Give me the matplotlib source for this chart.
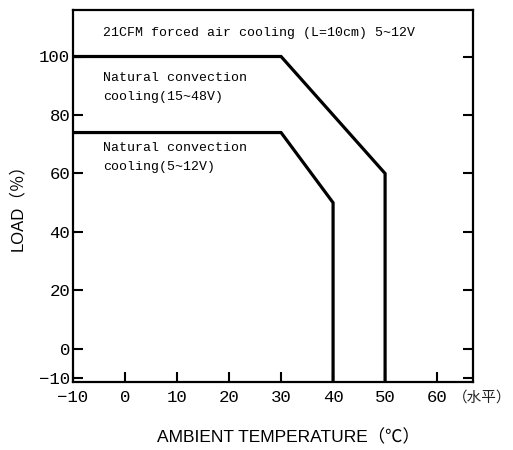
import matplotlib
matplotlib.use("Agg")
import matplotlib.pyplot as plt

# Data
upper_x = [-10, 30, 50, 50]
upper_y = [100, 100, 60, -11.3]
lower_x = [-10, 30, 40, 40]
lower_y = [74, 74, 50, -11.3]
xticks = [-10, 0, 10, 20, 30, 40, 50, 60]
yticks = [-10, 0, 20, 40, 60, 80, 100]
label_forced = "21CFM forced air cooling (L=10cm) 5~12V"
label_nat1 = "Natural convection\ncooling(15~48V)"
label_nat2 = "Natural convection\ncooling(5~12V)"

mono = ["Liberation Mono", "DejaVu Sans Mono"]
sans_cjk = ["Liberation Sans", "Noto Sans CJK SC", "DejaVu Sans"]

fig = plt.figure(figsize=(5.13, 4.5), dpi=100)
ax = fig.add_axes([73/513, 1-382/450, 400/513, 372/450])

ax.plot(upper_x, upper_y, color="black", lw=2.3, solid_joinstyle="miter")
ax.plot(lower_x, lower_y, color="black", lw=2.3, solid_joinstyle="miter")

ax.set_xlim(-10, 66.9)
ax.set_ylim(-11.3, 115.9)

ax.set_xticks(xticks)
ax.set_yticks(yticks)
ax.set_xticklabels([str(v).replace("-", "\u2212") for v in xticks], family=mono, fontsize=12.5)
ax.set_yticklabels([str(v).replace("-", "\u2212") for v in yticks], family=mono, fontsize=12.5)

ax.tick_params(axis="x", direction="in", length=7, width=1.5, pad=6, bottom=True, top=False)
ax.tick_params(axis="y", direction="in", length=7, width=1.5, pad=2, left=True, right=True)
for s in ax.spines.values():
    s.set_linewidth(1.6)

ax.text(-4.3, 108, label_forced, family=mono, fontsize=9.5, va="center", ha="left")
ax.text(-4.3, 89.5, label_nat1, family=mono, fontsize=9.5, va="center", ha="left", linespacing=1.75)
ax.text(-4.3, 65.5, label_nat2, family=mono, fontsize=9.5, va="center", ha="left", linespacing=1.75)

fig.text(511/513, 1-398/450, "（水平）", family=["Noto Sans CJK SC", "DejaVu Sans"],
         fontsize=10.5, va="center", ha="right", color="#222222")

ax.set_xlabel("AMBIENT TEMPERATURE（℃）", family=sans_cjk, fontsize=12.5)
ax.xaxis.set_label_coords(0.5375, -0.125)
ax.set_ylabel("LOAD（％）", family=sans_cjk, fontsize=12)
ax.yaxis.set_label_coords(-0.12, 0.48)

fig.savefig("out.png", dpi=100)
